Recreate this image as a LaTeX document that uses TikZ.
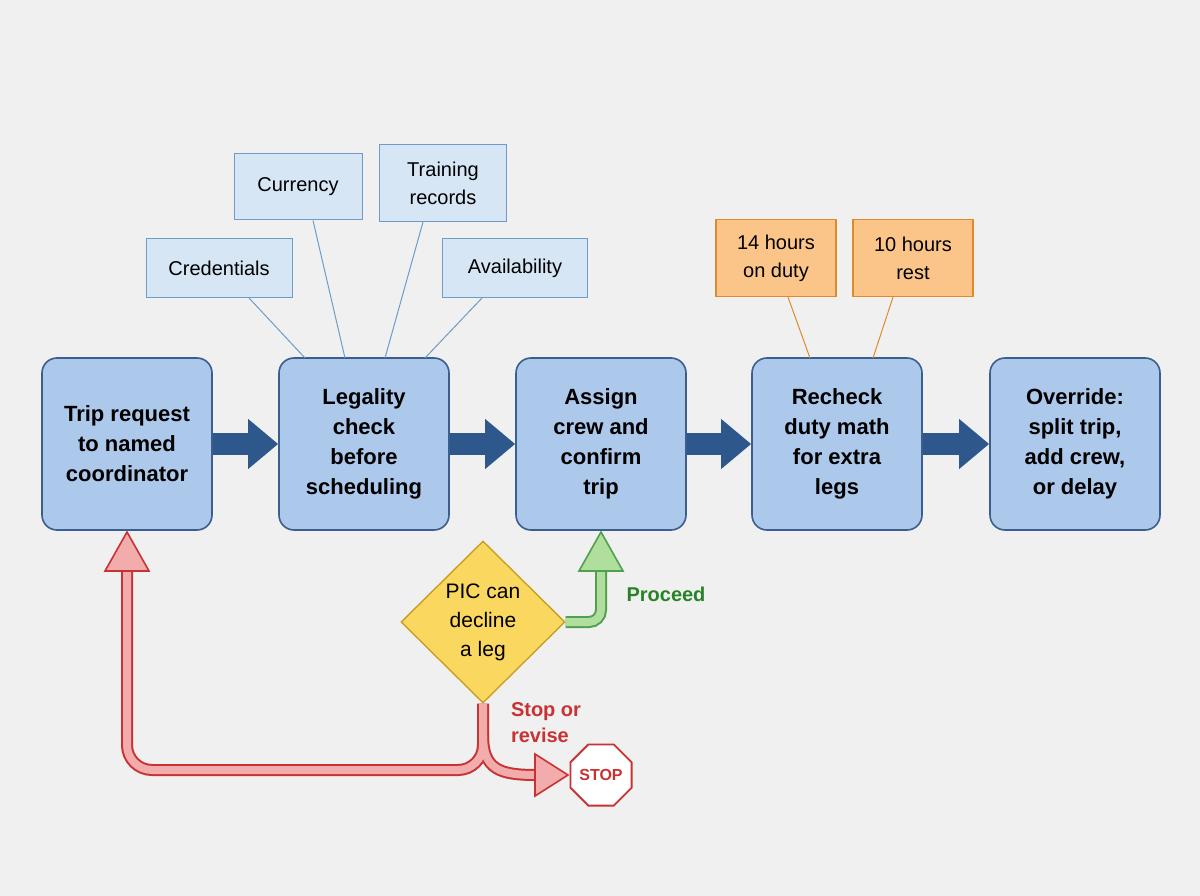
\documentclass[tikz,border=0pt]{standalone}
\usepackage{fontspec}
\setmainfont{Liberation Sans}
\usetikzlibrary{arrows.meta,shapes.geometric}
\definecolor{stepfill}{RGB}{172,200,234}
\definecolor{stepline}{RGB}{58,95,143}
\definecolor{flowblue}{RGB}{46,88,140}
\definecolor{notefill}{RGB}{214,230,245}
\definecolor{noteline}{RGB}{110,156,200}
\definecolor{hourfill}{RGB}{251,197,138}
\definecolor{hourline}{RGB}{224,138,42}
\definecolor{askfill}{RGB}{250,216,96}
\definecolor{askline}{RGB}{200,160,32}
\definecolor{stopline}{RGB}{200,50,50}
\definecolor{stopfill}{RGB}{242,172,172}
\definecolor{goline}{RGB}{80,160,80}
\definecolor{gofill}{RGB}{176,222,156}
\definecolor{gotext}{RGB}{40,130,40}
\tikzset{
  stepbox/.style={draw=stepline, line width=1.6pt, fill=stepfill, rounded corners=15pt,
    minimum width=170pt, minimum height=172pt, align=center, font=\fontsize{22}{30}\selectfont\bfseries},
  notebox/.style={draw=noteline, line width=1pt, fill=notefill, align=center,
    inner sep=10pt, font=\fontsize{20}{28}\selectfont},
  hourbox/.style={draw=hourline, line width=1.2pt, fill=hourfill, align=center,
    minimum width=120pt, minimum height=77pt, font=\fontsize{20}{28}\selectfont},
  flow/.style={flowblue, line width=22pt, -{Triangle[length=30pt,width=48pt]}},
  tie/.style={noteline, line width=1pt}
}
\begin{document}
\begin{tikzpicture}[x=1pt,y=-1pt]
  \fill[white!94!black] (0,0) rectangle (1200,896);
  \useasboundingbox (0,0) rectangle (1200,896);

  % main steps
  \node[stepbox] (trip)   at (127,444) {Trip request\\to named\\coordinator};
  \node[stepbox] (legal)  at (364,444) {Legality\\check\\before\\scheduling};
  \node[stepbox] (assign) at (601,444) {Assign\\crew and\\confirm\\trip};
  \node[stepbox] (duty)   at (837,444) {Recheck\\duty math\\for extra\\legs};
  \node[stepbox] (over)   at (1075,444) {Override:\\split trip,\\add crew,\\or delay};

  % arrows
  \draw[flow] (trip.east) -- (legal.west);
  \draw[flow] (legal.east) -- (assign.west);
  \draw[flow] (assign.east) -- (duty.west);
  \draw[flow] (duty.east) -- (over.west);

  % checks
  \node[notebox, minimum width=146pt, minimum height=59pt] (cred)  at (219,268) {Credentials};
  \node[notebox, minimum width=128pt, minimum height=66pt] (curr)  at (298,187) {Currency};
  \node[notebox, minimum width=127pt, minimum height=77pt, inner sep=4pt] (train) at (443,183) {Training\\records};
  \node[notebox, minimum width=145pt, minimum height=59pt] (avail) at (515,268) {Availability};
  \draw[tie] (cred.south) ++(30,0) -- (305,358);
  \draw[tie] (curr.south) ++(15,0) -- (345,358);
  \draw[tie] (train.south) ++(-20,0) -- (385,358);
  \draw[tie] (avail.south) ++(-33,0) -- (425,358);

  % limits
  \node[hourbox] (onduty) at (776,258) {14 hours\\on duty};
  \node[hourbox] (rest)   at (913,258) {10 hours\\rest};
  \draw[hourline, line width=1pt] (onduty.south) ++(12,0) -- (810,358);
  \draw[hourline, line width=1pt] (rest.south) ++(-20,0) -- (873,358);

  % decision
  \node[diamond, draw=askline, line width=1.4pt, fill=askfill, minimum width=164pt,
    minimum height=162pt, inner sep=0pt, align=center,
    font=\fontsize{21}{29}\selectfont] (pic) at (483,622) {PIC can\\decline\\a leg};

  % proceed
  \draw[goline, line width=12pt, rounded corners=12pt] (pic.east) -- (601,622) -- (601,568);
  \draw[gofill, line width=8pt, rounded corners=12pt] (pic.east) -- (601,622) -- (601,568);
  \filldraw[draw=goline, fill=gofill, line width=1.6pt] (601,532) -- (579,571) -- (623,571) -- cycle;
  \node[text=gotext, font=\fontsize{20}{24}\selectfont\bfseries] (go) at (666,594) {Proceed};

  % stop or revise
  \draw[stopline, line width=12pt, rounded corners=25pt] (pic.south) -- (483,770) -- (127,770) -- (127,568);
  \draw[stopline, line width=12pt] (483,735) .. controls (483,770) and (500,775) .. (537,775);
  \draw[stopfill, line width=8pt, rounded corners=25pt] (pic.south) -- (483,770) -- (127,770) -- (127,568);
  \draw[stopfill, line width=8pt] (483,735) .. controls (483,770) and (500,775) .. (537,775);
  \filldraw[draw=stopline, fill=stopfill, line width=1.6pt] (127,532) -- (105,571) -- (149,571) -- cycle;
  \filldraw[draw=stopline, fill=stopfill, line width=1.6pt] (568,775) -- (535,754) -- (535,796) -- cycle;
  \node[regular polygon, regular polygon sides=8, draw=stopline, line width=1.8pt, fill=white,
    minimum size=64pt, inner sep=0pt, text=stopline,
    font=\fontsize{16}{16}\selectfont\bfseries] (halt) at (601,775) {STOP};
  \node[text=stopline, align=left, font=\fontsize{20}{26}\selectfont\bfseries] (revise) at (546,723) {Stop or\\revise};
\end{tikzpicture}
\end{document}
